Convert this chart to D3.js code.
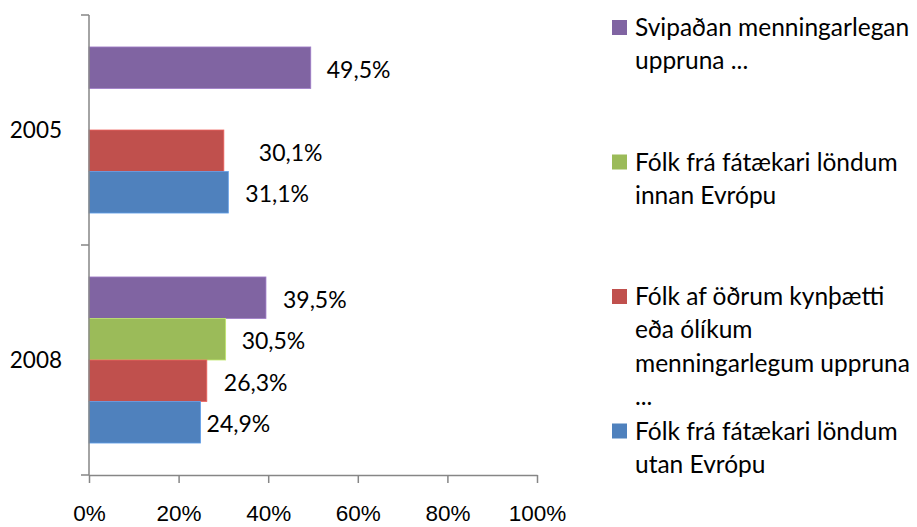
<!DOCTYPE html>
<html>
<head>
<meta charset="utf-8">
<script src="https://cdn.jsdelivr.net/npm/d3@7"></script>
<style>
  body { margin: 0; background: #fff; }
  svg { display: block; font-family: Lato, "Open Sans", sans-serif; }
  .axis path, .axis line { stroke: #868686; stroke-width: 1.5px; }
  .axis text { fill: #000; font-size: 22.5px; }
</style>
</head>
<body>
<div id="chart"></div>
<script>
// ---- data ----
const years = ["2005", "2008"];
const seriesNames = [
  "Svipaðan menningarlegan uppruna ...",
  "Fólk frá fátækari löndum innan Evrópu",
  "Fólk af öðrum kynþætti eða ólíkum menningarlegum uppruna ...",
  "Fólk frá fátækari löndum utan Evrópu"
];
const purpleValues = [49.5, 39.5];
const greenValues  = [null, 30.5];   // no 2005 figure
const redValues    = [30.1, 26.3];
const blueValues   = [31.1, 24.9];
const xTicks = [0, 20, 40, 60, 80, 100];

// legend text as it wraps in the original
const legendLines = [
  ["Svipaðan menningarlegan", "uppruna ..."],
  ["Fólk frá fátækari löndum", "innan Evrópu"],
  ["Fólk af öðrum kynþætti", "eða ólíkum", "menningarlegum uppruna", "..."],
  ["Fólk frá fátækari löndum", "utan Evrópu"]
];

// styling
const colors = ["#8064A2", "#9BBB59", "#C0504D", "#4F81BD"];
// labels were nudged by hand in the original, gap from bar end (px)
const labelNudge = [[16, 17], [16, 16], [35, 17], [17, 6]];

const allValues = [purpleValues, greenValues, redValues, blueValues];

const width = 917, height = 527;
const margin = { top: 15, left: 89 };
const plotW = 537 - margin.left;
const plotH = 475 - margin.top;

const svg = d3.select("#chart").append("svg")
  .attr("width", width)
  .attr("height", height);

const g = svg.append("g")
  .attr("transform", `translate(${margin.left},${margin.top})`);

const x = d3.scaleLinear().domain([0, 100]).range([0, plotW]);
const y = d3.scaleBand().domain(years).range([0, plotH]).padding(0);
const ySeries = d3.scaleBand()
  .domain(d3.range(seriesNames.length))
  .range([0, y.bandwidth()])
  .paddingInner(0)
  .paddingOuter(0.77);

const fmt = d3.formatLocale({ decimal: ",", thousands: ".", grouping: [3], currency: ["", ""] }).format(".1f");

// bars
const rows = [];
allValues.forEach((vals, si) => {
  vals.forEach((v, yi) => {
    if (v != null) rows.push({ s: si, year: years[yi], yi: yi, value: v });
  });
});

g.selectAll(".bar")
  .data(rows)
  .enter()
  .append("rect")
  .attr("class", "bar")
  .attr("x", 0)
  .attr("y", d => y(d.year) + ySeries(d.s))
  .attr("width", d => x(d.value))
  .attr("height", ySeries.bandwidth())
  .attr("fill", d => colors[d.s])
  .attr("stroke", d => d3.color(colors[d.s]).brighter(0.6))
  .attr("stroke-width", 0.8);

// value labels
g.selectAll(".bar-label")
  .data(rows)
  .enter()
  .append("text")
  .attr("class", "bar-label")
  .attr("x", d => x(d.value) + labelNudge[d.s][d.yi])
  .attr("y", d => y(d.year) + ySeries(d.s) + ySeries.bandwidth() / 2 + 10)
  .style("font-size", "23px")
  .style("fill", "#000")
  .text(d => fmt(d.value) + "%");

// x axis
g.append("g")
  .attr("class", "axis")
  .attr("transform", `translate(0,${plotH})`)
  .call(d3.axisBottom(x).tickValues(xTicks).tickSize(8).tickSizeOuter(0).tickFormat(d => d + "%"))
  .call(a => a.selectAll("text").attr("y", 46).attr("dy", null));

// y axis: ticks on band edges, labels in band centres
const yAxis = g.append("g").attr("class", "axis");
yAxis.append("line")
  .attr("x1", 0).attr("x2", 0)
  .attr("y1", 0).attr("y2", plotH);
const edges = years.map(yr => y(yr)).concat([plotH]);
yAxis.selectAll(".edge")
  .data(edges)
  .enter()
  .append("line")
  .attr("class", "edge")
  .attr("x1", -8).attr("x2", 0)
  .attr("y1", d => d).attr("y2", d => d);
yAxis.selectAll(".cat")
  .data(years)
  .enter()
  .append("text")
  .attr("class", "cat")
  .attr("x", -27)
  .attr("y", d => y(d) + y.bandwidth() / 2 + 8)
  .attr("text-anchor", "end")
  .text(d => d);

// legend
const legend = svg.append("g").attr("transform", "translate(612,0)");
const item = legend.selectAll(".item")
  .data(seriesNames)
  .enter()
  .append("g")
  .attr("class", "item")
  .attr("transform", (d, i) => `translate(0,${36 + i * 134.5})`);

item.append("rect")
  .attr("x", 0).attr("y", -16)
  .attr("width", 15).attr("height", 15)
  .attr("fill", (d, i) => colors[i]);

item.append("text")
  .style("font-size", "24.5px")
  .selectAll("tspan")
  .data((d, i) => legendLines[i])
  .enter()
  .append("tspan")
  .attr("x", 23)
  .attr("y", (d, j) => j * 33.3)
  .text(d => d);
</script>
</body>
</html>
